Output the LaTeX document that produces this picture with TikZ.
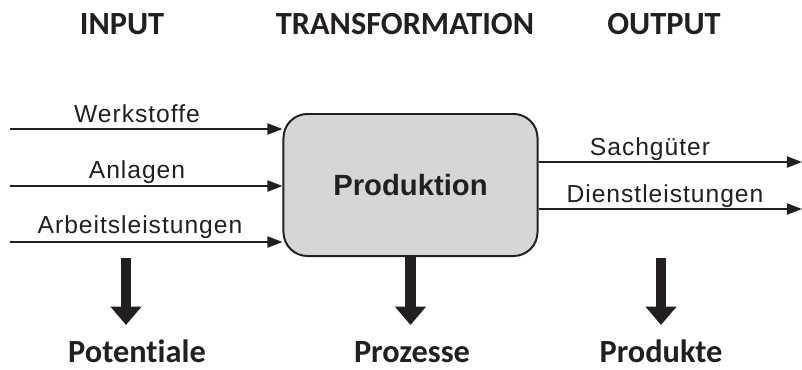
\documentclass[tikz,border=0pt]{standalone}
\usepackage{fontspec}
\setmainfont{Liberation Sans}
\newfontfamily\headfont{Carlito}[Ligatures=NoCommon]
\newfontfamily\labelfont{Liberation Sans}[LetterSpace=4]
\usepackage{tikz}
\usetikzlibrary{arrows.meta,positioning}
\definecolor{boxgray}{HTML}{D5D6D8}
\definecolor{ink}{HTML}{231F20}

\begin{document}
\begin{tikzpicture}[
  x=0.025cm,y=-0.025cm,
  heading/.style={anchor=base,inner sep=0pt,font=\headfont\bfseries\fontsize{23}{27}\selectfont,text=ink},
  flowlabel/.style={anchor=base,font=\labelfont\fontsize{17.5}{20}\selectfont,text=ink},
  process/.style={rectangle,rounded corners=0.6cm,draw=ink,line width=1.4pt,fill=boxgray,
                  minimum width=6.35cm,minimum height=3.55cm,
                  font=\bfseries\fontsize{20.8}{24}\selectfont,text=ink},
  flow/.style={-{Triangle[length=3.8mm,width=2.8mm]},line width=1.3pt,draw=ink},
  bigarrow/.style={-{Triangle[length=4.6mm,width=7.5mm]},line width=2.6mm,draw=ink}
]
  \useasboundingbox (0,0) rectangle (802,369);

  % headings
  \node[heading] (input) at (122,34) {INPUT};
  \node[heading] (trans) at (405,34) {TRANSFORMATION};
  \node[heading] (output) at (664,34) {OUTPUT};

  \node[process] (prod) at (410.5,185) {Produktion};

  % inputs
  \coordinate (in1) at (10,129);
  \coordinate (in2) at (10,186);
  \coordinate (in3) at (10,242);
  \draw[flow] (in1) -- (in1 -| prod.west);
  \draw[flow] (in2) -- (in2 -| prod.west);
  \draw[flow] (in3) -- (in3 -| prod.west);
  \node[flowlabel] (werk) at (137,122) {Werkstoffe};
  \node[flowlabel] (anl) at (137,178) {Anlagen};
  \node[flowlabel] (arb) at (140,233) {Arbeitsleistungen};

  % outputs
  \coordinate (out1) at (802,162);
  \coordinate (out2) at (802,209);
  \draw[flow] (out1 -| prod.east) -- (out1);
  \draw[flow] (out2 -| prod.east) -- (out2);
  \node[flowlabel] (sach) at (650,155) {Sachgüter};
  \node[flowlabel] (dienst) at (665,202) {Dienstleistungen};

  % results
  \node[heading] (pot) at (137,362) {Potentiale};
  \node[heading] (proz) at (412,362) {Prozesse};
  \node[heading] (prodk) at (661,362) {Produkte};
  \coordinate (d1) at (126,258);
  \coordinate (d3) at (661,258);
  \draw[bigarrow] (d1) -- ++(0,67);
  \draw[bigarrow] (prod.south) -- ++(0,68);
  \draw[bigarrow] (d3) -- ++(0,67);
\end{tikzpicture}
\end{document}
